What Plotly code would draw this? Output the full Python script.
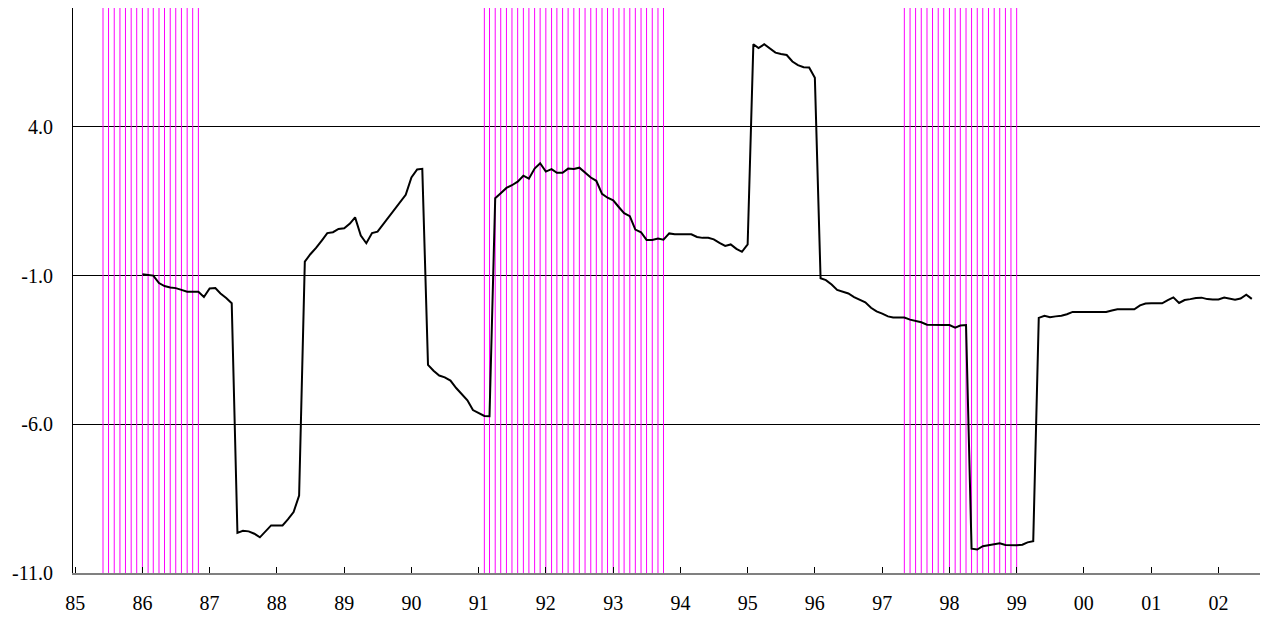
import pandas as pd
import plotly.graph_objects as go

# ---- data ----
series_start = "1986-01-01"
values = [
    -0.95, -0.98, -1.00, -1.25, -1.35, -1.40, -1.42, -1.48, -1.54, -1.54,
    -1.54, -1.72, -1.43, -1.42, -1.60, -1.75, -1.93, -9.65, -9.58, -9.60,
    -9.68, -9.80, -9.60, -9.40, -9.40, -9.40, -9.20, -8.95, -8.40, -0.53,
    -0.28, -0.07, 0.18, 0.43, 0.46, 0.57, 0.59, 0.75, 0.96, 0.35,
    0.09, 0.43, 0.48, 0.73, 0.95, 1.20, 1.45, 1.72, 2.30, 2.57,
    2.59, -4.00, -4.20, -4.36, -4.42, -4.53, -4.78, -5.00, -5.19, -5.52,
    -5.63, -5.72, -5.73, 1.60, 1.77, 1.95, 2.04, 2.16, 2.36, 2.26,
    2.60, 2.78, 2.50, 2.58, 2.46, 2.46, 2.60, 2.59, 2.63, 2.47,
    2.30, 2.19, 1.75, 1.62, 1.53, 1.30, 1.10, 1.00, 0.55, 0.46,
    0.20, 0.20, 0.25, 0.21, 0.42, 0.39, 0.39, 0.39, 0.39, 0.30,
    0.27, 0.27, 0.22, 0.10, 0.00, 0.05, -0.10, -0.20, 0.05, 6.78,
    6.65, 6.78, 6.65, 6.50, 6.45, 6.42, 6.20, 6.08, 6.01, 6.00,
    5.65, -1.09, -1.15, -1.30, -1.48, -1.54, -1.60, -1.72, -1.80, -1.90,
    -2.08, -2.20, -2.28, -2.37, -2.41, -2.41, -2.41, -2.48, -2.53, -2.57,
    -2.65, -2.66, -2.66, -2.66, -2.66, -2.75, -2.68, -2.66, -10.18, -10.21,
    -10.10, -10.07, -10.03, -10.00, -10.06, -10.07, -10.07, -10.05, -9.97, -9.93,
    -2.42, -2.35, -2.40, -2.37, -2.35, -2.30, -2.22, -2.22, -2.22, -2.22,
    -2.22, -2.22, -2.22, -2.17, -2.13, -2.13, -2.13, -2.13, -2.00, -1.94,
    -1.93, -1.93, -1.93, -1.82, -1.73, -1.92, -1.82, -1.79, -1.75, -1.74,
    -1.79, -1.80, -1.80, -1.74, -1.78, -1.81, -1.77, -1.64, -1.78,
]
# shaded periods (monthly vertical lines): (first month, last month)
periods = [("1985-06-01", "1986-11-01"),
           ("1991-02-01", "1993-10-01"),
           ("1997-05-01", "1999-01-01")]
y_ticks = [-11, -6, -1, 4]
y_range = [-11, 8]
x_range = ["1984-12-20", "2002-09-27"]
tick_years = list(range(1985, 2003))

# ---- build ----
dates = pd.date_range(series_start, periods=len(values), freq="MS")

mx, my = [], []
for a, b in periods:
    for d in pd.date_range(a, b, freq="MS"):
        mx += [d, d, None]
        my += [y_range[0], y_range[1], None]

fig = go.Figure()
fig.add_trace(go.Scatter(x=mx, y=my, mode="lines",
                         line=dict(color="#FF00FF", width=1),
                         hoverinfo="skip", showlegend=False))
fig.add_trace(go.Scatter(x=dates, y=values, mode="lines",
                         line=dict(color="black", width=2),
                         showlegend=False))

fig.update_layout(
    width=1260, height=613,
    margin=dict(l=65, r=0, t=0, b=48),
    paper_bgcolor="white", plot_bgcolor="white",
    font=dict(family="Liberation Serif", size=20, color="black"),
    showlegend=False,
)
fig.update_xaxes(
    type="date", range=x_range,
    tickvals=[pd.Timestamp(f"{y}-01-01") for y in tick_years],
    ticktext=[f"{y % 100:02d}" for y in tick_years],
    ticks="inside", ticklen=6, tickcolor="black", tickwidth=1,
    showline=True, linecolor="#808080", linewidth=2,
    showgrid=False, zeroline=False,
    ticklabelstandoff=11,
)
fig.update_yaxes(
    range=y_range,
    tickvals=y_ticks, ticktext=[f"{v:.1f}" for v in y_ticks],
    ticks="", showline=True, linecolor="black", linewidth=1,
    showgrid=True, gridcolor="black", gridwidth=1,
    zeroline=False, ticklabelstandoff=15,
)

fig.write_html("out.html")
